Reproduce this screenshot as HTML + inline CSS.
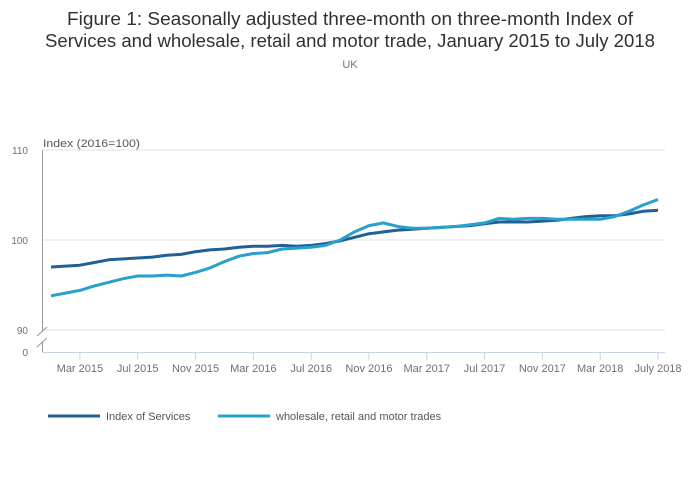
<!DOCTYPE html>
<html><head><meta charset="utf-8"><style>
html,body{margin:0;padding:0;background:#fff;}
svg{display:block;font-family:"Liberation Sans",sans-serif;}
</style></head><body>
<svg id="chart" width="700" height="502">
<text x="350" y="25" text-anchor="middle" font-size="18" fill="#323132" textLength="566" lengthAdjust="spacingAndGlyphs">Figure 1: Seasonally adjusted three-month on three-month Index of</text>
<text x="350" y="47" text-anchor="middle" font-size="18" fill="#323132" textLength="610" lengthAdjust="spacingAndGlyphs">Services and wholesale, retail and motor trade, January 2015 to July 2018</text>
<text x="350" y="68" text-anchor="middle" font-size="11" fill="#707070">UK</text>
<text x="43" y="147" font-size="11" fill="#555" textLength="97" lengthAdjust="spacingAndGlyphs">Index (2016=100)</text>
<g id="grid"></g>
<g id="axes"></g>
<g id="lines"></g>
<g id="legend"></g>
</svg>
<script>
const months = ["Jan 2015","Feb 2015","Mar 2015","Apr 2015","May 2015","Jun 2015","Jul 2015","Aug 2015","Sep 2015","Oct 2015","Nov 2015","Dec 2015","Jan 2016","Feb 2016","Mar 2016","Apr 2016","May 2016","Jun 2016","Jul 2016","Aug 2016","Sep 2016","Oct 2016","Nov 2016","Dec 2016","Jan 2017","Feb 2017","Mar 2017","Apr 2017","May 2017","Jun 2017","Jul 2017","Aug 2017","Sep 2017","Oct 2017","Nov 2017","Dec 2017","Jan 2018","Feb 2018","Mar 2018","Apr 2018","May 2018","Jun 2018","Jul 2018"];
const services = [97.0,97.1,97.2,97.5,97.8,97.9,98.0,98.1,98.3,98.4,98.7,98.9,99.0,99.2,99.3,99.3,99.4,99.3,99.4,99.6,99.9,100.3,100.7,100.9,101.1,101.2,101.3,101.4,101.5,101.6,101.8,102.0,102.0,102.0,102.1,102.2,102.4,102.6,102.7,102.7,102.9,103.2,103.3];
const wholesale = [93.8,94.1,94.4,94.9,95.3,95.7,96.0,96.0,96.1,96.0,96.4,96.9,97.6,98.2,98.5,98.6,99.0,99.1,99.2,99.4,100.0,100.9,101.6,101.9,101.5,101.3,101.3,101.4,101.5,101.7,101.9,102.4,102.3,102.4,102.4,102.3,102.3,102.3,102.3,102.6,103.2,103.9,104.5];
const yTicks = [90,100,110];
const xTickLabels = ["Mar 2015","Jul 2015","Nov 2015","Mar 2016","Jul 2016","Nov 2016","Mar 2017","Jul 2017","Nov 2017","Mar 2018","July 2018"];
const xTickIdx = [2,6,10,14,18,22,26,30,34,38,42];
const seriesNames = ["Index of Services","wholesale, retail and motor trades"];

const NS="http://www.w3.org/2000/svg";
function el(tag,attrs,parent,txt){const e=document.createElementNS(NS,tag);for(const k in attrs)e.setAttribute(k,attrs[k]);if(txt!=null)e.textContent=txt;parent.appendChild(e);return e;}
const x0=51,x1=658;
function xs(i){return x0+(x1-x0)*i/(months.length-1);}
function ys(v){return 240-(v-100)*9;}
const grid=document.getElementById('grid'),axes=document.getElementById('axes'),lines=document.getElementById('lines'),legend=document.getElementById('legend');
yTicks.forEach(t=>{
  const l=el('line',{x1:42,x2:665,y1:ys(t),y2:ys(t),stroke:'#e2e2e2','stroke-width':1},grid);
  
  
  const tx=el('text',{x:28,y:ys(t)+4,'text-anchor':'end','font-size':10,fill:'#707070'},axes,String(t));
  
  
});
const zt=el('text',{x:28,y:356,'text-anchor':'end','font-size':10,fill:'#707070'},axes,'0');


const ya=el('path',{d:'M42.5,150 V331 M42.5,342 V352',stroke:'#999','stroke-width':1,fill:'none'},axes);


const br=el('path',{d:'M37,336 L47,327 M37,347 L47,338',stroke:'#999','stroke-width':1,fill:'none'},axes);


const xa=el('line',{x1:42,x2:665,y1:352.5,y2:352.5,stroke:'#c7d3e8','stroke-width':1},axes);


xTickIdx.forEach((idx,k)=>{
  const x=xs(idx);
  const t=el('line',{x1:x,x2:x,y1:353,y2:360,stroke:'#c7d3e8','stroke-width':1},axes);
  
  
  const tx=el('text',{x:x,y:372,'text-anchor':'middle','font-size':11,fill:'#707070'},axes,xTickLabels[k]);
  
  
});
const colors=['#206095','#27a0cc'];
[services,wholesale].forEach((s,si)=>{
  const d=s.map((v,i)=>(i?'L':'M')+xs(i).toFixed(1)+','+ys(v).toFixed(1)).join(' ');
  const p=el('path',{d:d,stroke:colors[si],'stroke-width':3,fill:'none','stroke-linejoin':'round'},lines);
  
  
});
const lx=[48,218];
seriesNames.forEach((n,i)=>{
  const g=el('g',{},legend);
  
  
  el('line',{x1:lx[i],x2:lx[i]+52,y1:416,y2:416,stroke:colors[i],'stroke-width':3},g);
  el('text',{x:lx[i]+58,y:420,'font-size':11,fill:'#555'},g,n);
});
</script>
</body></html>
